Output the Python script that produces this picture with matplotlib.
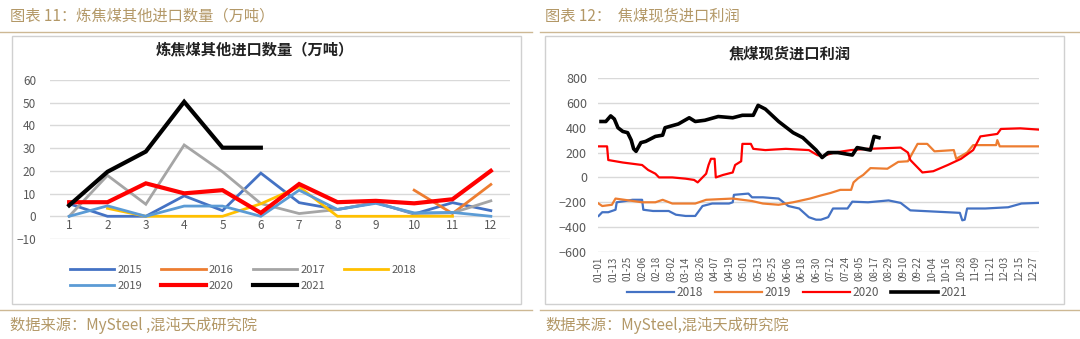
import numpy as np
import matplotlib
matplotlib.use("Agg")
from matplotlib import pyplot as plt
from matplotlib.patches import Rectangle
from matplotlib.lines import Line2D

plt.rcParams['font.family'] = ['Noto Sans CJK SC', 'DejaVu Sans']

# left chart: monthly volumes (10k t)
months = np.arange(1, 13)
nan = np.nan
y2015 = [5.5, 0, 0, 9, 2.5, 19, 6, 3, 6, 1, 6, 2.5]
y2016 = [nan, nan, nan, nan, nan, nan, nan, nan, nan, 11.5, 1.2, 14]
y2017 = [0, 18, 5.3, 31.4, 19.6, 5.6, 1.2, 3, 6, 1.2, 1.5, 6.8]
y2018 = [nan, 3.5, 0, 0, 0, 5.5, 13, 0, 0, 0, 0, nan]
y2019 = [0, 4.6, 0, 4.5, 4.5, 0, 11.5, 3, 5.7, 1.5, 1.7, 0]
y2020 = [6.2, 6.2, 14.5, 10.1, 11.5, 1.5, 14.2, 6.2, 6.8, 5.7, 7.5, 20]
y2021 = [4.8, 19.6, 28.5, 50.4, 30.2, 30.2]

# right chart: import profit, (day of year, value) breakpoints
p2018_day = [0, 3, 8, 11, 14, 15, 22, 28, 36, 37, 45, 58, 64, 72, 80, 86, 94, 108, 111, 112,
             124, 127, 136, 149, 157, 166, 174, 180, 184, 190, 194, 206, 210, 223, 240, 250,
             258, 299, 301, 303, 305, 320, 339, 350, 364]
p2018_val = [-310, -280, -280, -270, -260, -200, -190, -180, -180, -260, -270, -270, -300, -310,
             -310, -230, -210, -210, -200, -140, -130, -160, -160, -170, -230, -250, -320, -340,
             -340, -320, -250, -250, -195, -200, -185, -205, -265, -285, -345, -340, -250, -250,
             -240, -210, -205]
p2019_day = [0, 3, 11, 14, 36, 47, 53, 61, 80, 86, 89, 111, 127, 136, 149, 161, 175, 184, 192,
             200, 209, 211, 215, 219, 225, 239, 248, 256, 258, 264, 272, 278, 294, 296, 305, 310,
             329, 330, 332, 364]
p2019_val = [-210, -230, -220, -170, -200, -200, -180, -210, -210, -190, -180, -170, -190, -210,
             -220, -200, -170, -145, -125, -100, -100, -40, -5, 20, 75, 70, 125, 130, 165, 270,
             270, 210, 220, 150, 200, 260, 260, 300, 250, 250]
p2020_day = [0, 7, 8, 20, 36, 41, 47, 50, 61, 72, 79, 82, 86, 89, 91, 93, 96, 97, 103, 111, 113,
             118, 119, 126, 128, 138, 155, 174, 181, 185, 195, 209, 223, 250, 256, 258, 262, 268,
             277, 283, 289, 300, 310, 316, 330, 333, 349, 364]
p2020_val = [250, 250, 140, 120, 100, 60, 30, 0, 0, -10, -20, -40, 0, 30, 100, 150, 150, 0, 20,
             40, 100, 130, 270, 270, 230, 220, 230, 220, 180, 170, 200, 220, 230, 240, 200, 140,
             100, 40, 50, 75, 100, 150, 220, 330, 350, 390, 395, 385]
p2021_day = [2, 6, 10, 13, 16, 20, 24, 27, 29, 31, 35, 39, 47, 53, 55, 66, 75, 80, 88, 99, 111,
             119, 128, 132, 138, 149, 161, 169, 180, 185, 190, 198, 210, 214, 225, 228, 232]
p2021_val = [450, 450, 495, 470, 400, 370, 360, 300, 230, 210, 280, 290, 330, 340, 400, 430, 480,
             450, 460, 490, 480, 500, 500, 580, 550, 450, 360, 320, 220, 160, 200, 200, 180, 240,
             220, 330, 320]
date_labels = ['01-01', '01-13', '01-25', '02-06', '02-18', '03-02', '03-14', '03-26', '04-07',
               '04-19', '05-01', '05-13', '05-25', '06-06', '06-18', '06-30', '07-12', '07-24',
               '08-05', '08-17', '08-29', '09-10', '09-22', '10-04', '10-16', '10-28', '11-09',
               '11-21', '12-03', '12-15', '12-27']

W, H = 1080, 339
fig = plt.figure(figsize=(W / 100, H / 100), dpi=100)
gold = '#B39867'
grid_c = '#D9D9D9'
tick_c = '#595959'

def fx(px):
    return px / W

def fy(py):
    return 1 - py / H

# page decoration: headers, rules, boxes, sources
fig.text(fx(10), fy(16), '图表 11：炼焦煤其他进口数量（万吨）', color=gold, fontsize=11, va='center')
fig.text(fx(545), fy(16), '图表 12：  焦煤现货进口利润', color=gold, fontsize=11, va='center')
fig.text(fx(10), fy(326), '数据来源：MySteel ,混沌天成研究院', color=gold, fontsize=11, va='center')
fig.text(fx(545), fy(326), '数据来源：MySteel,混沌天成研究院', color=gold, fontsize=11, va='center')
for x0, x1 in [(0, 532), (540, 1080)]:
    for yy in [32, 310]:
        fig.add_artist(Line2D([fx(x0), fx(x1)], [fy(yy), fy(yy)], color='#CDB894', lw=1))
for x0, x1 in [(12, 521), (545, 1064)]:
    fig.add_artist(Rectangle((fx(x0), fy(304)), fx(x1 - x0), fy(36) - fy(304),
                             fill=False, edgecolor='#D0D0D0', lw=1))

# ---- left chart ----
ax1 = fig.add_axes([fx(50), fy(239), fx(460), fy(80) - fy(239)])
series = [(y2015, '#4472C4', 2.0, '2015'), (y2016, '#ED7D31', 2.0, '2016'),
          (y2017, '#A5A5A5', 2.0, '2017'), (y2018, '#FFC000', 2.0, '2018'),
          (y2019, '#5B9BD5', 2.0, '2019'), (y2020, '#FF0000', 3.0, '2020'),
          (y2021, '#000000', 3.0, '2021')]
handles = []
for vals, c, lw, lab in series:
    h, = ax1.plot(months[:len(vals)], vals, color=c, lw=lw, label=lab, solid_joinstyle='miter')
    handles.append(h)
ax1.set_xlim(0.5, 12.5)
ax1.set_ylim(-10, 60)
ax1.set_yticks(range(-10, 61, 10))
ax1.grid(axis='y', color=grid_c, lw=1)
ax1.set_axisbelow(True)
for s in ax1.spines.values():
    s.set_visible(False)
ax1.tick_params(axis='y', length=0, labelsize=8.5, labelcolor=tick_c, pad=10)
ax1.set_xticks([])
for m in months:
    ax1.text(m, -4.2, str(m), ha='center', va='center', fontsize=8.5, color=tick_c)
ax1.set_facecolor('none')
fig.text(fx(255), fy(49), '炼焦煤其他进口数量（万吨）', ha='center', va='center',
         fontsize=11, fontweight='bold', color='#222222')
order = [0, 4, 1, 5, 2, 6, 3]
fig.legend([handles[i] for i in order], [handles[i].get_label() for i in order],
           ncol=4, loc='center', bbox_to_anchor=(fx(243), fy(278)), frameon=False,
           fontsize=8, labelcolor=tick_c, handlelength=4.0, columnspacing=1.7,
           handletextpad=0.3, labelspacing=0.6)

# ---- right chart ----
ax2 = fig.add_axes([fx(598), fy(252), fx(441), fy(78) - fy(252)])
rseries = [(p2018_day, p2018_val, '#4472C4', 1.6, '2018'),
           (p2019_day, p2019_val, '#ED7D31', 1.6, '2019'),
           (p2020_day, p2020_val, '#FF0000', 1.6, '2020'),
           (p2021_day, p2021_val, '#000000', 2.6, '2021')]
rh = []
for d, v, c, lw, lab in rseries:
    h, = ax2.plot(d, v, color=c, lw=lw, label=lab)
    rh.append(h)
ax2.set_xlim(-0.5, 364.5)
ax2.set_ylim(-600, 800)
ax2.set_yticks(range(-600, 801, 200))
ax2.grid(axis='y', color=grid_c, lw=1)
ax2.set_axisbelow(True)
for s in ax2.spines.values():
    s.set_visible(False)
ax2.tick_params(axis='y', length=0, labelsize=9, labelcolor=tick_c, pad=8)
ax2.set_xticks(np.arange(0, 361, 12))
ax2.set_xticklabels(date_labels, rotation=90, fontsize=7, color=tick_c)
ax2.tick_params(axis='x', length=0, pad=3)
ax2.set_facecolor('none')
fig.text(fx(790), fy(53), '焦煤现货进口利润', ha='center', va='center',
         fontsize=11, fontweight='bold', color='#222222')
fig.legend(rh, [h.get_label() for h in rh], ncol=4, loc='center',
           bbox_to_anchor=(fx(797), fy(293)), frameon=False, fontsize=8.5,
           labelcolor=tick_c, handlelength=4.0, columnspacing=1.0, handletextpad=0.2)

fig.savefig('out.png', dpi=100)
